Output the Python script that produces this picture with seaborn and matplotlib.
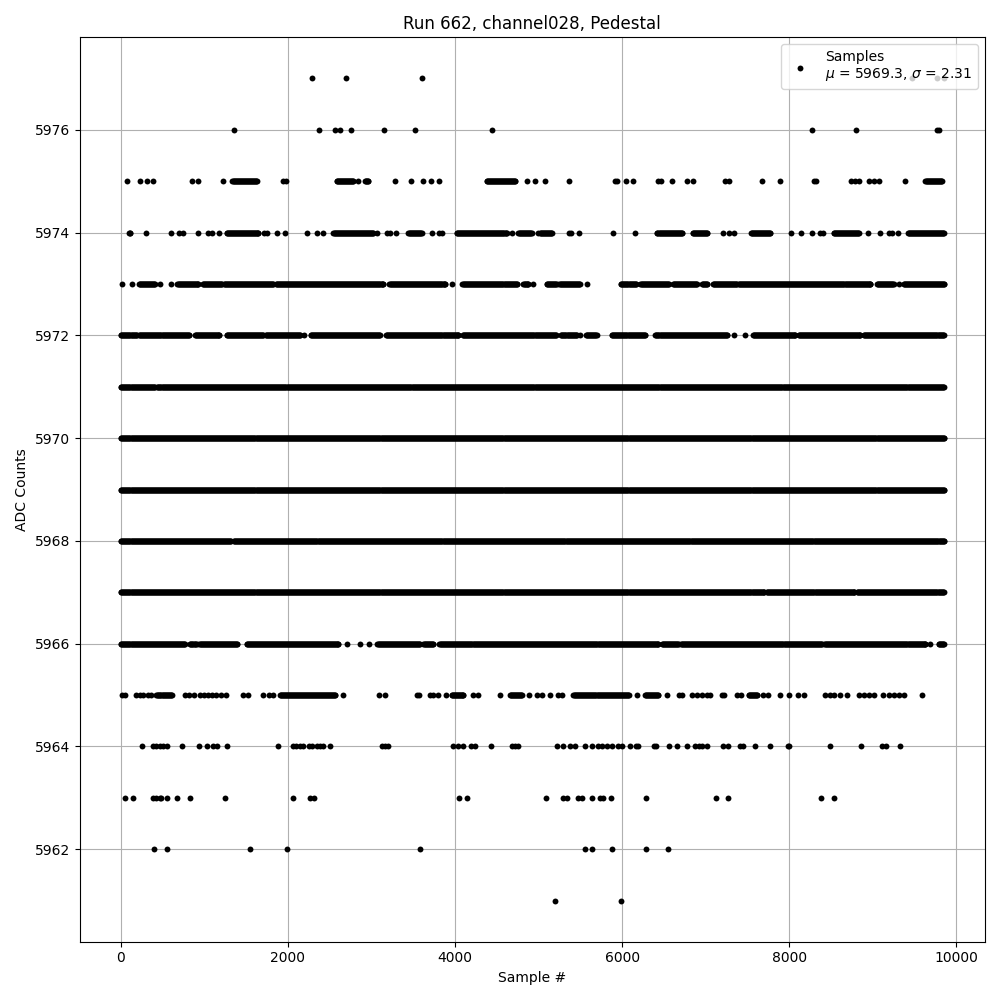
import numpy as np
import pandas as pd
from matplotlib import pyplot as plt
import seaborn as sns

# Samples per ADC level.
# int = single sample, (a, b) = run of consecutive samples at that level
lvl_5977 = [2290, 2690, 3600, 9470, 9770, 9850]
lvl_5976 = [1357, 2375, 2563, 2623, 2758, 3153, 3524, 4447, 8267, 8794, 9769, 9793]
lvl_5975 = [80, 231, 319, 387, 854, 918, 1226, (1333, 1625), 1944, 1972, (2583, 2782), 2842,
            (2922, 2962), 3285, 3477, 3613, 3717, 3813, (4379, 4719), 4866, 4958, 5081, 5365,
            5916, 5944, 6044, 6135, 6435, 6463, 6591, 6775, 6842, 7234, 7274, 7677, 7884,
            8291, 8323, 8739, 8790, 8830, 8950, 9010, 9070, 9381, (9629, 9829)]
lvl_5974 = [(100, 116), 299, 599, 695, 746, 926, 1046, 1086, 1178, (1265, 1645), 1717, 1745,
            1864, 1964, 2224, 2343, 2415, (2543, 3022), 3070, 3182, 3222, 3293, (3441, 3601),
            3721, 3813, 3841, (4020, 4619), 4687, (4758, 4918), 4998, (5018, 5158), 5358, 5386,
            5482, 5896, 6148, (6415, 6715), (6842, 7014), 7206, 7274, 7341, (7541, 7772), 8020,
            8140, 8275, 8363, 8403, (8531, 8830), 8942, 9081, 9189, 9229, 9297, (9421, 9848)]
lvl_5973 = [20, 128, (219, 407), 475, 595, (675, 926), (978, 1206), (1234, 1824), (1856, 3142),
            (3214, 3880), 3968, (4088, 4739), (4818, 4878), 4938, (5098, 5218), (5249, 5497),
            5585, (5984, 6168), (6216, 6555), (6607, 6894), (6954, 7014), (7086, 7373),
            (7393, 8970), (9050, 9249), 9309, (9369, 9850)]
lvl_5972 = [(0, 188), (219, 818), (886, 1178), (1265, 1705), (1733, 2144), 2192, (2271, 3102),
            (3174, 4040), (4091, 5210), (5266, 5457), 5497, (5569, 5697), (5876, 6275),
            (6395, 7254), 7341, 7473, (7565, 8072), (8111, 8850), (8890, 9850)]
lvl_5971 = [(0, 407), (435, 9850)]
lvl_5970 = [(0, 9850)]
lvl_5969 = [(0, 9850)]
lvl_5968 = [(0, 1320), (1350, 9850)]
lvl_5967 = [(0, 7700), (7730, 8780), (8810, 9850)]
lvl_5966 = [(0, 766), (826, 906), (938, 1393), (1505, 2603), 2711, 2862, 2974, (3070, 3581),
            (3621, 3741), (3813, 6435), (6475, 6675), (6703, 8391), (8419, 9629), 9689,
            (9789, 9850)]
lvl_5965 = [20, 48, 180, 228, 267, 327, 367, (427, 607), 766, 818, 874, 946, 994, 1046, 1086,
            1138, 1194, 1257, 1457, 1525, 1697, 1776, 1824, (1904, 2563), 2662, 3094, 3162,
            3541, 3573, 3701, 3733, 3801, 3892, (3960, 4099), 4219, 4279, 4539, (4659, 4798),
            4890, 4986, 5038, 5138, 5237, 5277, (5417, 6076), 6176, (6275, 6435), 6535, 6675,
            6715, 6834, 6894, 6954, 7014, 7054, 7194, 7214, 7373, 7421, (7513, 7613), 7685,
            7741, 7884, 7992, 8100, 8180, 8431, 8491, 8539, 8611, 8691, 8830, 8890, 8950,
            9010, 9122, 9189, 9249, 9309, 9377, 9589]
lvl_5964 = [248, 387, 427, 467, 507, 547, 727, 938, 1026, 1106, 1146, 1265, 1884, 2064, 2100,
            2140, 2184, 2250, 2290, 2343, 2383, 2415, 2503, 3122, 3160, 3202, 3980, 4040, 4091,
            4188, 4240, 4427, 4679, 4720, 4758, 5218, 5298, 5378, 5437, 5557, 5637, 5716,
            5756, 5816, 5876, 5956, 5996, 6096, 6168, 6195, 6383, 6407, 6555, 6655, 6775,
            6874, 6914, 6954, 7014, 7206, 7261, 7413, 7445, 7585, 7764, 7980, 7996, 8491,
            8862, 9110, 9162, 9321]
lvl_5963 = [52, 148, 387, 427, 467, 487, 555, 667, 830, 1250, 2064, 2263, 2316, 4052, 4148,
            5094, 5298, 5337, 5477, 5517, 5637, 5737, 5765, 5872, 6291, 7118, 7261, 8375, 8531]
lvl_5962 = [399, 555, 1549, 1992, 3585, 5561, 5645, 5884, 6291, 6543]
lvl_5961 = [5202, 5992]

levels = {5977: lvl_5977, 5976: lvl_5976, 5975: lvl_5975, 5974: lvl_5974, 5973: lvl_5973,
          5972: lvl_5972, 5971: lvl_5971, 5970: lvl_5970, 5969: lvl_5969, 5968: lvl_5968,
          5967: lvl_5967, 5966: lvl_5966, 5965: lvl_5965, 5964: lvl_5964, 5963: lvl_5963,
          5962: lvl_5962, 5961: lvl_5961}

mu, sigma = 5969.3, 2.31


def expand(items):
    xs = []
    for it in items:
        if isinstance(it, tuple):
            xs.extend(range(it[0], it[1], 8))
            xs.append(it[1])
        else:
            xs.append(it)
    return xs


rows = []
for adc, items in levels.items():
    for s in expand(items):
        rows.append((s, adc))
df = pd.DataFrame(rows, columns=['sample', 'adc'])

fig, ax = plt.subplots(figsize=(10, 10), dpi=100)
sns.scatterplot(data=df, x='sample', y='adc', color='k', s=18, linewidth=0, ax=ax,
                label='Samples\n$\\mu$ = %.1f, $\\sigma$ = %.2f' % (mu, sigma))
ax.grid(True)
ax.set_axisbelow(True)
ax.set_xlabel('Sample #')
ax.set_ylabel('ADC Counts')
ax.set_title('Run 662, channel028, Pedestal')
ax.legend(loc='upper right')
fig.tight_layout()
fig.savefig('out.png')
